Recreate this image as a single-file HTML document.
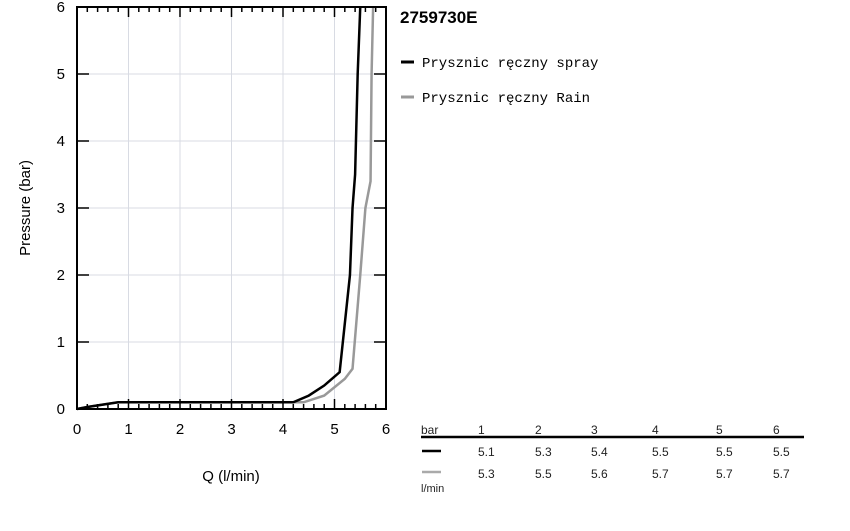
<!DOCTYPE html>
<html><head><meta charset="utf-8"><style>
body{margin:0;background:#fff;width:850px;height:526px;overflow:hidden;font-family:"Liberation Sans",sans-serif}
</style></head><body>
<svg width="850" height="526" id="c" font-family="Liberation Sans, sans-serif">
<g id="grid"></g>
<g id="series"></g>
<g id="axes"></g>
<text x="30" y="208" transform="rotate(-90 30 208)" text-anchor="middle" font-size="15">Pressure (bar)</text>
<text x="231" y="481" text-anchor="middle" font-size="15">Q (l/min)</text>
<text x="400" y="23" font-size="17" font-weight="bold">2759730E</text>
<g><line x1="401" y1="62" x2="414" y2="62" stroke="#000" stroke-width="3"/><text x="422" y="67" font-family="Liberation Mono, monospace" font-size="14">Prysznic ręczny spray</text></g>
<g><line x1="401" y1="97" x2="414" y2="97" stroke="#999" stroke-width="3"/><text x="422" y="102" font-family="Liberation Mono, monospace" font-size="14">Prysznic ręczny Rain</text></g>
<g id="table" font-size="12" fill="#222"></g>
</svg>
<script>
const xTicks=[0,1,2,3,4,5,6];
const yTicks=[0,1,2,3,4,5,6];
const sprayQ=[0,0.2,0.8,4.2,4.5,4.8,5.1,5.3,5.35,5.4,5.45,5.5];
const sprayP=[0,0.03,0.1,0.1,0.2,0.35,0.55,2,3,3.5,5,6];
const rainQ=[0,0.2,0.8,4.4,4.8,5.2,5.35,5.5,5.6,5.7,5.72,5.75];
const rainP=[0,0.03,0.1,0.1,0.2,0.45,0.6,2,3,3.4,5,6];
const tableBars=["1","2","3","4","5","6"];
const sprayFlow=["5.1","5.3","5.4","5.5","5.5","5.5"];
const rainFlow=["5.3","5.5","5.6","5.7","5.7","5.7"];
const NS="http://www.w3.org/2000/svg";
const L=77,R=386,T=7,B=409;
const xs=v=>L+(R-L)*v/6, ys=v=>B-(B-T)*v/6;
function mk(p,t,a){const e=document.createElementNS(NS,t);for(const k in a)e.setAttribute(k,a[k]);p.appendChild(e);return e;}
const g=document.getElementById('grid'),ax=document.getElementById('axes'),s=document.getElementById('series'),tb=document.getElementById('table');
xTicks.forEach(v=>{if(v>0&&v<6){const l=mk(g,'line',{x1:xs(v),x2:xs(v),y1:T,y2:B,stroke:'#d8dbe3'});

}
const t=mk(ax,'text',{x:xs(v),y:B+25,'text-anchor':'middle','font-size':15});t.textContent=v;

});
yTicks.forEach(v=>{if(v>0&&v<6){const l=mk(g,'line',{x1:L,x2:R,y1:ys(v),y2:ys(v),stroke:'#d8dbe3'});

}
mk(ax,'line',{x1:L,x2:L+12,y1:ys(v),y2:ys(v),stroke:'#000','stroke-width':1.5});
mk(ax,'line',{x1:R-12,x2:R,y1:ys(v),y2:ys(v),stroke:'#000','stroke-width':1.5});
const t=mk(ax,'text',{x:L-12,y:ys(v)+5,'text-anchor':'end','font-size':15});t.textContent=v;

});
for(let i=1;i<30;i++){const v=i*0.2,len=i%5==0?10:5;
mk(ax,'line',{x1:xs(v),x2:xs(v),y1:T,y2:T+len,stroke:'#000','stroke-width':1.5});
mk(ax,'line',{x1:xs(v),x2:xs(v),y1:B,y2:B-len,stroke:'#000','stroke-width':1.5});}
const fr=mk(ax,'rect',{x:L,y:T,width:R-L,height:B-T,fill:'none',stroke:'#000','stroke-width':2});


function line(q,p,c,n){const e=mk(s,'polyline',{points:q.map((v,i)=>xs(v)+','+ys(p[i])).join(' '),fill:'none',stroke:c,'stroke-width':2.5});

}
line(rainQ,rainP,'#999','rain-line');
line(sprayQ,sprayP,'#000','spray-line');
const cx=[478,535,591,652,716,773];
let t=mk(tb,'text',{x:421,y:434});t.textContent='bar';
mk(tb,'line',{x1:421,x2:804,y1:437,y2:437,stroke:'#000','stroke-width':2.5});
mk(tb,'line',{x1:422,x2:441,y1:451,y2:451,stroke:'#000','stroke-width':2.5});
mk(tb,'line',{x1:422,x2:441,y1:472,y2:472,stroke:'#aaa','stroke-width':2.5});
t=mk(tb,'text',{x:421,y:492,'font-size':11});t.textContent='l/min';
tableBars.forEach((b,i)=>{let e=mk(tb,'text',{x:cx[i],y:434});e.textContent=b;


e=mk(tb,'text',{x:cx[i],y:456});e.textContent=sprayFlow[i];


e=mk(tb,'text',{x:cx[i],y:478});e.textContent=rainFlow[i];

});
</script>
</body></html>
